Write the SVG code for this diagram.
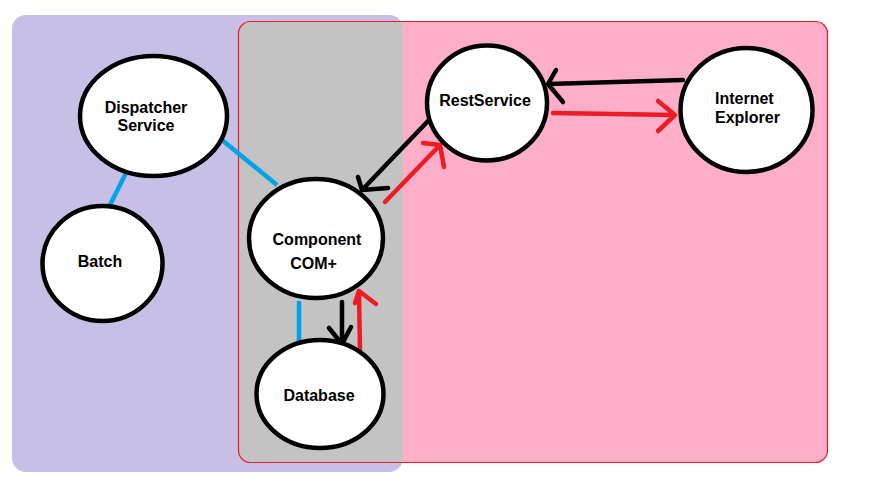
<svg xmlns="http://www.w3.org/2000/svg" width="886" height="500" viewBox="0 0 886 500">
  <style>
    .node ellipse { fill: #ffffff; stroke: #000000; stroke-width: 4.5; }
    .node text { font-family: "Liberation Sans", Arial, sans-serif; font-size: 16px; font-weight: bold; fill: #000000; }
    .c { fill: none; stroke-width: 4.5; stroke-linecap: round; stroke-linejoin: round; }
    .blue { stroke: #00a2e8; stroke-linecap: butt; }
    .black { stroke: #000000; }
    .red { stroke: #ed1c24; }
  </style>
  <defs>
    <clipPath id="purpleClip">
      <rect x="12" y="15" width="391" height="457" rx="14" ry="14"/>
    </clipPath>
  </defs>
  <rect width="886" height="500" fill="#ffffff"/>
  <g id="zones">
    <rect id="zone-purple" x="12" y="15" width="391" height="457" rx="14" ry="14" fill="#c8bfe7"/>
    <rect id="zone-pink" x="238.5" y="21.5" width="589" height="441" rx="12" ry="12" fill="#ffaec9"/>
    <rect id="zone-overlap" x="238.5" y="21.5" width="589" height="441" rx="12" ry="12" fill="#c3c3c3" clip-path="url(#purpleClip)"/>
    <rect id="zone-pink-border" x="238.5" y="21.5" width="589" height="441" rx="12" ry="12" fill="none" stroke="#ed1c24" stroke-width="1.2"/>
  </g>
  <g id="connectors">
    <path class="c blue" d="M126,173 L109,207"/>
    <path class="c blue" d="M222,140 L277,185"/>
    <path class="c blue" d="M299,301 L299,344"/>
    <path class="c black" d="M342,302 L342,344 M329,328 L342,344 L351,327"/>
    <path class="c red" d="M360,352 L359,291 M355,303 L359,291 L376,304"/>
    <path class="c black" d="M428,121 L362,190 M358,177 L362,190 L388,188"/>
    <path class="c red" d="M385,202 L440,145 M423,143 L440,145 L444,167"/>
    <path class="c black" d="M683,80 L548,84 M556,70 L548,84 L563,102"/>
    <path class="c red" d="M553,113 L675,115 M658,101 L675,115 L658,131"/>
  </g>
  <g id="node-dispatcher" class="node">
    <ellipse cx="153.5" cy="116" rx="73.5" ry="60"/>
    <text x="146" y="112.5" text-anchor="middle">Dispatcher</text>
    <text x="146" y="131" text-anchor="middle">Service</text>
  </g>
  <g id="node-batch" class="node">
    <ellipse cx="102.5" cy="263.5" rx="60" ry="57.5"/>
    <text x="100" y="267" text-anchor="middle">Batch</text>
  </g>
  <g id="node-component" class="node">
    <ellipse cx="316" cy="238.5" rx="67" ry="59.5"/>
    <text x="317" y="244.5" text-anchor="middle">Component</text>
    <text x="313.5" y="269" text-anchor="middle">COM+</text>
  </g>
  <g id="node-database" class="node">
    <ellipse cx="320" cy="394" rx="63.5" ry="54"/>
    <text x="319" y="401" text-anchor="middle">Database</text>
  </g>
  <g id="node-restservice" class="node">
    <ellipse cx="487" cy="103" rx="60" ry="57.5"/>
    <text x="485" y="106" text-anchor="middle">RestService</text>
  </g>
  <g id="node-ie" class="node">
    <ellipse cx="746.5" cy="110" rx="66" ry="62"/>
    <text x="715" y="104">Internet</text>
    <text x="715" y="123">Explorer</text>
  </g>
</svg>
